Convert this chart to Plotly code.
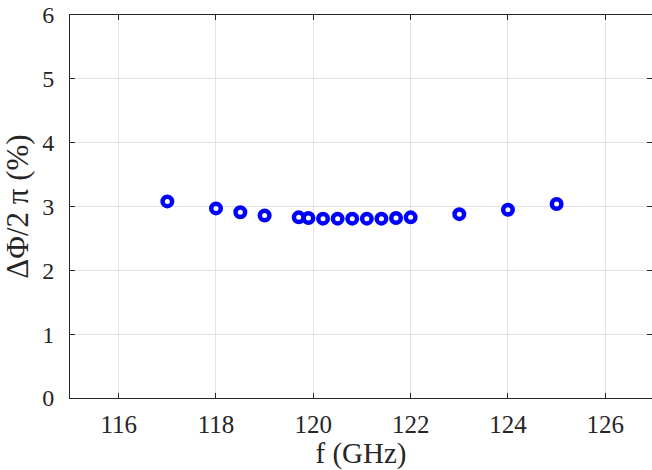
import plotly.graph_objects as go

freq_ghz = [117, 118, 118.5, 119, 119.7, 119.9, 120.2, 120.5, 120.8, 121.1, 121.4, 121.7, 122, 123, 124, 125]
dphi_pct = [3.08, 2.97, 2.91, 2.86, 2.83, 2.82, 2.81, 2.81, 2.81, 2.81, 2.81, 2.82, 2.83, 2.88, 2.95, 3.04]

x_ticks = [116, 118, 120, 122, 124, 126]
y_ticks = [0, 1, 2, 3, 4, 5, 6]

FONT = "Liberation Serif, Times New Roman, Times, serif"
AX = "#262626"
TXT = "#262626"

fig = go.Figure()
fig.add_trace(go.Scatter(
    x=freq_ghz, y=dphi_pct, mode="markers",
    marker=dict(symbol="circle-open", size=9.5, color="#0000ff", line=dict(width=4.5, color="#0000ff")),
    showlegend=False,
))

axis_common = dict(
    showline=True, linecolor=AX, linewidth=1, mirror="ticks",
    ticks="inside", ticklen=5, tickcolor=AX, tickwidth=1,
    showgrid=True, gridcolor="#e3e3e3", gridwidth=1,
    zeroline=False, automargin=False, ticklabeloverflow="allow",
)

fig.update_xaxes(range=[115, 126.96], tickvals=x_ticks, ticktext=[str(v) for v in x_ticks],
                 title=dict(text="f (GHz)", font=dict(family=FONT, size=29, color=TXT), standoff=6),
                 ticklabelstandoff=4, tickfont=dict(family=FONT, size=25, color=TXT),
                 **axis_common)
fig.update_yaxes(range=[0, 6], tickvals=y_ticks, ticktext=[str(v) for v in y_ticks],
                 title=dict(text="ΔΦ/2 π (%)", font=dict(family=FONT, size=31, color=TXT), standoff=6),
                 ticklabelstandoff=10, tickfont=dict(family=FONT, size=24, color=TXT),
                 **axis_common)

fig.update_layout(
    width=652, height=470,
    margin=dict(l=70, r=0, t=15, b=72),
    plot_bgcolor="white", paper_bgcolor="white",
)

fig.write_html("out.html", config={"displayModeBar": False},
               post_script="document.body.style.margin='0';document.body.style.overflow='hidden';")
